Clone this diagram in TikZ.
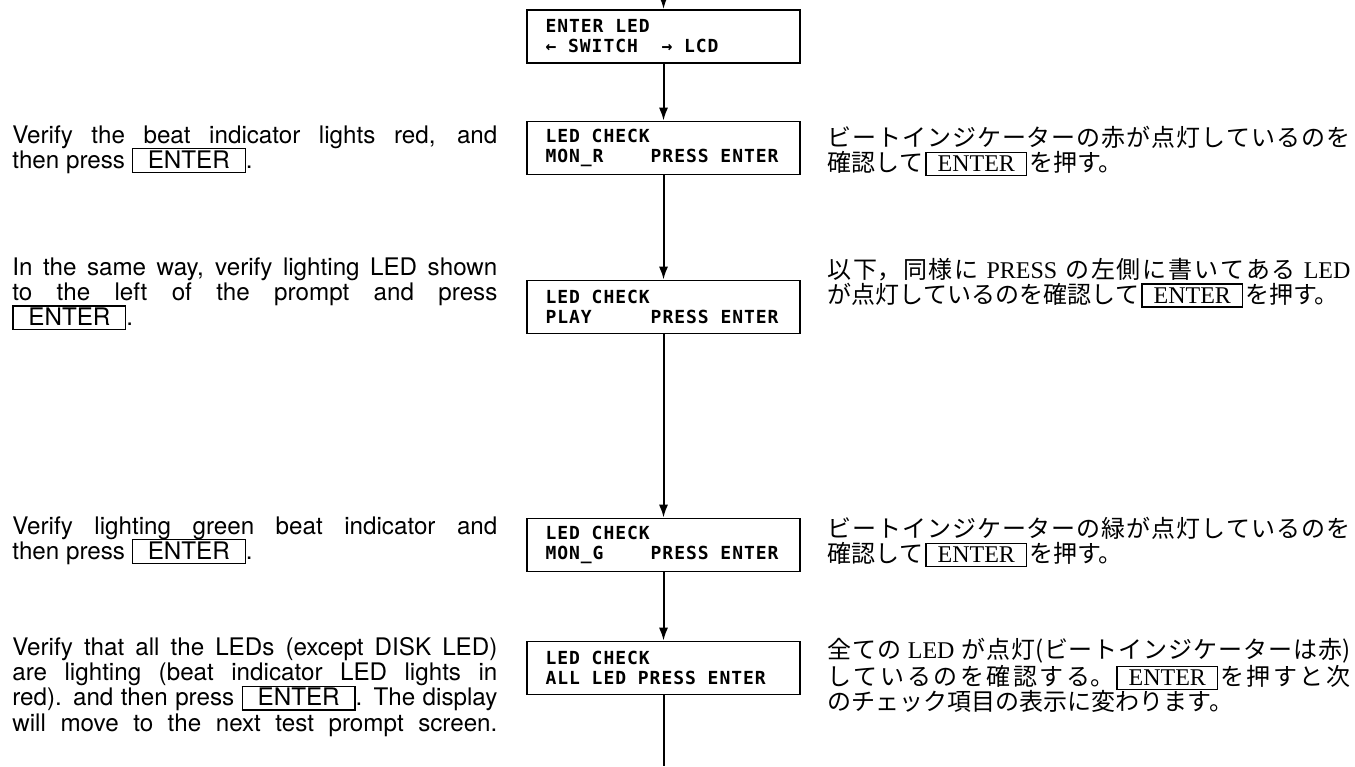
\documentclass[tikz,border=0pt]{standalone}
\usepackage{fontspec}
\setmainfont{TeX Gyre Heros}
\newfontfamily\lcdfont{DejaVu Sans Mono}[LetterSpace=5.3]
\newfontfamily\cjkfont{Noto Sans CJK JP}
\newfontfamily\jlatin{Liberation Serif}
\usetikzlibrary{arrows.meta,positioning}

\newcommand\lcdsp{\hspace{5.9pt}}
\newcommand\keybox[1]{\smash{\setlength\fboxsep{0.6pt}\setlength\fboxrule{0.6pt}\fbox{\rule[-1.2pt]{0pt}{8.9pt}\hspace{6.8pt}#1\hspace{6.8pt}}}}
\newcommand\jkeybox[1]{\hspace{1pt}\smash{\setlength\fboxsep{1.5pt}\setlength\fboxrule{0.6pt}\fbox{\jlatin\hspace{4pt}#1\hspace{4pt}}}\hspace{1pt}}
\newcommand\jl[1]{{\jlatin #1}}
\newcommand\jpfont{\cjkfont\fontsize{12pt}{12.4pt}\selectfont\XeTeXlinebreaklocale "ja"\XeTeXlinebreakskip=0pt plus 1pt\relax}

\begin{document}
\begin{tikzpicture}[x=0.5pt,y=-0.5pt,
  lcd/.style={rectangle,draw,line width=0.9pt,minimum width=136.5pt,minimum height=26.5pt,text width=118pt,inner xsep=9.25pt,align=left,font=\lcdfont\bfseries\fontsize{9pt}{10pt}\selectfont},
  note/.style={anchor=north west,inner sep=0pt,text width=242.5pt,align=justify,font=\fontsize{12.1pt}{12.6pt}\selectfont},
  jnote/.style={anchor=north west,inner sep=0pt,text width=261.5pt,align=justify,font=\jpfont},
  flow/.style={-{Latex[length=6.5pt,width=4.6pt]},line width=1pt},
]
\useasboundingbox (0,0) rectangle (1355,766);

\node[lcd] (enter_led) at (663.5,36.5) {ENTER\lcdsp LED\\←\lcdsp SWITCH\lcdsp\lcdsp →\lcdsp LCD};
\node[lcd] (mon_r) at (663.5,148) {LED\lcdsp CHECK\\MON\_R\lcdsp\lcdsp\lcdsp\lcdsp PRESS\lcdsp ENTER};
\node[lcd] (play) at (663.5,307) {LED\lcdsp CHECK\\PLAY\lcdsp\lcdsp\lcdsp\lcdsp\lcdsp PRESS\lcdsp ENTER};
\node[lcd] (mon_g) at (663.5,545) {LED\lcdsp CHECK\\MON\_G\lcdsp\lcdsp\lcdsp\lcdsp PRESS\lcdsp ENTER};
\node[lcd] (all_led) at (663.5,668) {LED\lcdsp CHECK\\ALL\lcdsp LED\lcdsp PRESS\lcdsp ENTER};

\coordinate (flow_in) at (663.5,0);
\coordinate (flow_out) at (663.5,766);

\node[note] (en_mon_r) at (12,125) {Verify the beat indicator lights red, and\linebreak then press \keybox{ENTER}.};
\node[note] (en_play) at (12,257) {In the same way, verify lighting LED shown\linebreak to the left of the prompt and press\linebreak \keybox{ENTER}.};
\node[note] (en_mon_g) at (12,516) {Verify lighting green beat indicator and\linebreak then press \keybox{ENTER}.};
\node[note] (en_all_led) at (12,637) {\parfillskip=0pt Verify that all the LEDs (except DISK LED)\linebreak are lighting (beat indicator LED lights in\linebreak red). and then press \keybox{ENTER}. The display\linebreak will move to the next test prompt screen.\par};

\node[jnote] (jp_mon_r) at (827,126) {ビートインジケーターの赤が点灯しているのを\linebreak 確認して\jkeybox{ENTER}を押す。};
\node[jnote] (jp_play) at (827,258) {以下，同様に \jl{PRESS} の左側に書いてある \jl{LED}\linebreak が点灯しているのを確認して\jkeybox{ENTER}を押す。};
\node[jnote] (jp_mon_g) at (827,517) {ビートインジケーターの緑が点灯しているのを\linebreak 確認して\jkeybox{ENTER}を押す。};
\node[jnote] (jp_all_led) at (827,638) {全ての \jl{LED} が点灯(ビートインジケーターは赤)\linebreak しているのを確認する。\jkeybox{ENTER}を押すと次\linebreak のチェック項目の表示に変わります。};

\draw[flow] (flow_in) -- (enter_led);
\draw[flow] (enter_led) -- (mon_r);
\draw[flow] (mon_r) -- (play);
\draw[flow] (play) -- (mon_g);
\draw[flow] (mon_g) -- (all_led);
\draw[line width=1pt] (all_led) -- (flow_out);

\end{tikzpicture}
\end{document}
